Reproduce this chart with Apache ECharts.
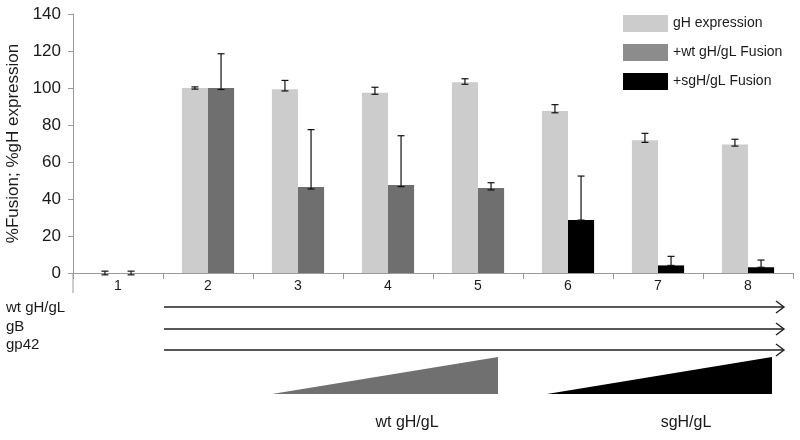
<!DOCTYPE html>
<html>
<head>
<meta charset="utf-8">
<script src="https://cdn.jsdelivr.net/npm/echarts@6/dist/echarts.min.js"></script>
<style>html,body{margin:0;padding:0;background:#fff}#c{width:800px;height:440px}</style>
</head>
<body>
<div id="c"></div>
<script>
var categories = ['1', '2', '3', '4', '5', '6', '7', '8'];
var gHExpression = [0, 100, 99.3, 97.5, 103.1, 87.6, 71.7, 69.5];
var gHErrUp = [1, 0.6, 4.8, 2.9, 1.9, 3.4, 3.8, 2.8];
var gHErrDown = [1, 0.6, 0.9, 0.9, 1.1, 1.0, 1.1, 0.9];
var wtFusion = [0, 100, 46.5, 47.6, 45.9, null, null, null];
var wtErrUp = [1, 18.5, 31, 26.6, 2.9, null, null, null];
var wtErrDown = [1, 0.8, 1.1, 0.9, 1.0, null, null, null];
var sgFusion = [null, null, null, null, null, 28.6, 4.1, 3.1];
var sgErrUp = [null, null, null, null, null, 23.8, 4.9, 3.9];
var sgErrDown = [null, null, null, null, null, 0, 0, 0];
var yTicks = { min: 0, max: 140, interval: 20 };
var rowLabels = ['wt gH/gL', 'gB', 'gp42'];
var rampLabels = ['wt gH/gL', 'sgH/gL'];

var FONT = '"Liberation Sans", Arial, sans-serif';
var TXT = '#1a1a1a';
var chart = echarts.init(document.getElementById('c'), null, { renderer: 'canvas' });

function errData(vals, up, down) {
  var out = [];
  for (var i = 0; i < vals.length; i++) {
    if (vals[i] == null) continue;
    out.push([i, vals[i], vals[i] - down[i], vals[i] + up[i]]);
  }
  return out;
}
function errSeries(data, side, color) {
  return {
    type: 'custom', z: 10, silent: true,
    data: data,
    encode: { x: 0, y: [1, 2, 3] },
    renderItem: function (params, api) {
      var band = api.size([1, 0])[0];
      var off = side * band * 0.145;
      var lo = api.coord([api.value(0), api.value(2)]);
      var hi = api.coord([api.value(0), api.value(3)]);
      var x = lo[0] + off;
      var cw = 3.5;
      var st = { stroke: color, lineWidth: 1.2 };
      return {
        type: 'group', children: [
          { type: 'line', shape: { x1: x, y1: lo[1], x2: x, y2: hi[1] }, style: st },
          { type: 'line', shape: { x1: x - cw, y1: lo[1], x2: x + cw, y2: lo[1] }, style: st },
          { type: 'line', shape: { x1: x - cw, y1: hi[1], x2: x + cw, y2: hi[1] }, style: st }
        ]
      };
    }
  };
}

var graphics = [];
graphics.push({ type: 'line', shape: { x1: 73, y1: 273, x2: 73, y2: 293 }, style: { stroke: '#9a9a9a', lineWidth: 1 } });
var rowY = [307, 329, 350];
var rowTextY = [308, 327, 345];
for (var r = 0; r < rowLabels.length; r++) {
  graphics.push({ type: 'text', x: 6, y: rowTextY[r], style: { text: rowLabels[r], fontFamily: FONT, fontSize: 15, fill: TXT, verticalAlign: 'middle' } });
  graphics.push({ type: 'line', shape: { x1: 164, y1: rowY[r], x2: 783, y2: rowY[r] }, style: { stroke: '#222', lineWidth: 1.4 } });
  graphics.push({ type: 'polyline', shape: { points: [[776, rowY[r] - 6], [784, rowY[r]], [776, rowY[r] + 6]] }, style: { stroke: '#222', lineWidth: 1.4, fill: null } });
}
graphics.push({ type: 'polygon', shape: { points: [[272, 394], [498, 357], [498, 394]] }, style: { fill: '#707070' } });
graphics.push({ type: 'polygon', shape: { points: [[547, 394], [772, 357], [772, 394]] }, style: { fill: '#000' } });
graphics.push({ type: 'text', x: 407, y: 423, style: { text: rampLabels[0], fontFamily: FONT, fontSize: 16, fill: TXT, align: 'center', verticalAlign: 'middle' } });
graphics.push({ type: 'text', x: 686, y: 423, style: { text: rampLabels[1], fontFamily: FONT, fontSize: 16, fill: TXT, align: 'center', verticalAlign: 'middle' } });

chart.setOption({
  animation: false,
  backgroundColor: '#fff',
  textStyle: { fontFamily: FONT },
  grid: { left: 73, right: 7, top: 14, bottom: 167, containLabel: false, outerBoundsMode: 'none' },
  legend: {
    orient: 'vertical', left: 618, top: 10,
    itemWidth: 45, itemHeight: 17, itemGap: 12,
    icon: 'rect',
    textStyle: { fontSize: 14, color: TXT, fontFamily: FONT },
    data: [
      { name: 'gH expression', itemStyle: { color: '#cccccc' } },
      { name: '+wt gH/gL Fusion', itemStyle: { color: '#8c8c8c' } },
      { name: '+sgH/gL Fusion', itemStyle: { color: '#000000' } }
    ]
  },
  xAxis: {
    type: 'category', data: categories, boundaryGap: true,
    axisLine: { lineStyle: { color: '#9a9a9a', width: 1 } },
    axisTick: { show: true, interval: 0, length: 6, lineStyle: { color: '#9a9a9a' } },
    axisLabel: { fontSize: 14, color: TXT, margin: 6, fontFamily: FONT },
    splitLine: { show: false }
  },
  yAxis: {
    type: 'value', min: yTicks.min, max: yTicks.max, interval: yTicks.interval,
    name: '%Fusion; %gH expression', nameLocation: 'middle', nameGap: 48, nameRotate: 90,
    nameTextStyle: { fontSize: 17, color: TXT, fontFamily: FONT },
    axisLine: { show: true, lineStyle: { color: '#9a9a9a', width: 1 } },
    axisTick: { show: true, length: 5, lineStyle: { color: '#9a9a9a' } },
    axisLabel: { fontSize: 17, color: TXT, margin: 12, fontFamily: FONT },
    splitLine: { show: false }
  },
  series: [
    { name: 'gH expression', type: 'bar', data: gHExpression, barWidth: '29%', barGap: '0%', itemStyle: { color: '#cccccc' } },
    { name: '+wt gH/gL Fusion', type: 'bar', stack: 'fusion', data: wtFusion, barWidth: '29%', barGap: '0%', itemStyle: { color: '#6f6f6f' } },
    { name: '+sgH/gL Fusion', type: 'bar', stack: 'fusion', data: sgFusion, barWidth: '29%', barGap: '0%', itemStyle: { color: '#000000' } },
    errSeries(errData(gHExpression, gHErrUp, gHErrDown), -1, '#111'),
    errSeries(errData(wtFusion, wtErrUp, wtErrDown), 1, '#111'),
    errSeries(errData(sgFusion, sgErrUp, sgErrDown), 1, '#111')
  ],
  graphic: graphics
});
</script>
</body>
</html>
